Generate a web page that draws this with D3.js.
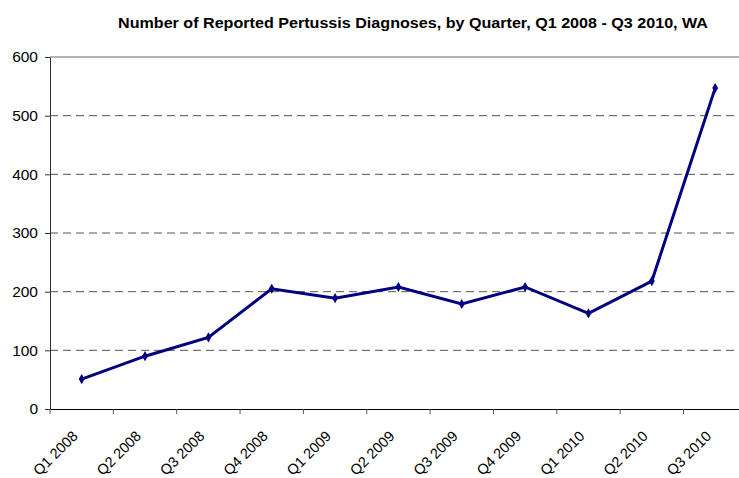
<!DOCTYPE html>
<html>
<head>
<meta charset="utf-8">
<script src="https://cdn.jsdelivr.net/npm/d3@7"></script>
<style>
  body { margin: 0; background: #fff; }
  svg { display: block; font-family: Arial, "Liberation Sans", sans-serif; }
</style>
</head>
<body>
<div id="chart"></div>
<script>
const quarters = ["Q1 2008", "Q2 2008", "Q3 2008", "Q4 2008", "Q1 2009", "Q2 2009",
                  "Q3 2009", "Q4 2009", "Q1 2010", "Q2 2010", "Q3 2010"];
const diagnoses = [51, 90, 122, 205, 189, 208, 179, 208, 163, 218, 547];
const yTicks = [0, 100, 200, 300, 400, 500, 600];
const title = "Number of Reported Pertussis Diagnoses, by Quarter, Q1 2008 - Q3 2010, WA";

const width = 739, height = 478;
const margin = { top: 57, left: 50, bottom: 69 };
const bandW = 63.35;

const svg = d3.select("#chart").append("svg").attr("width", width).attr("height", height);

const x = d3.scaleBand().domain(quarters).range([margin.left, margin.left + bandW * quarters.length]);
const y = d3.scaleLinear().domain([0, 600]).range([height - margin.bottom, margin.top]);

// title (stretched to the reference's width)
svg.append("text")
    .attr("x", 118).attr("y", 28)
    .attr("font-size", 14).attr("font-weight", "bold")
    .attr("textLength", 590).attr("lengthAdjust", "spacingAndGlyphs")
    .text(title);

// gridlines
svg.append("g").selectAll("line")
    .data(yTicks.filter(d => d > 0))
    .enter().append("line")
    .attr("x1", margin.left).attr("x2", width)
    .attr("y1", d => y(d)).attr("y2", d => y(d))
    .attr("stroke", d => d === 600 ? "#666" : "#555")
    .attr("stroke-width", 1)
    .attr("stroke-dasharray", d => d === 600 ? null : "8,5");

// y axis
const yAxis = svg.append("g")
    .attr("transform", "translate(" + margin.left + ",0)")
    .call(d3.axisLeft(y).tickValues(yTicks).tickSize(5).tickPadding(7).tickSizeOuter(0));
yAxis.select(".domain").attr("stroke", "#333");
yAxis.selectAll(".tick line").attr("stroke", "#333");
yAxis.selectAll("text").attr("font-size", 15.5).attr("fill", "#000").attr("font-family", "Arial, 'Liberation Sans', sans-serif");

// x axis
const xAxis = svg.append("g")
    .attr("transform", "translate(0," + y(0) + ")")
    .call(d3.axisBottom(x).tickSize(0).tickSizeOuter(0));
xAxis.select(".domain").attr("stroke", "#000");
xAxis.selectAll(".tick line").remove();
xAxis.selectAll("text")
    .attr("font-size", 14.5).attr("fill", "#000")
    .attr("font-family", "Arial, 'Liberation Sans', sans-serif")
    .attr("text-anchor", "end")
    .attr("x", 0).attr("y", 0).attr("dy", null)
    .attr("transform", "translate(-3,28) rotate(-45)");

// category boundary ticks
svg.append("g").selectAll("line")
    .data(quarters)
    .enter().append("line")
    .attr("x1", d => x(d)).attr("x2", d => x(d))
    .attr("y1", y(0)).attr("y2", y(0) + 5)
    .attr("stroke", "#555");

// line
const line = d3.line()
    .x((d, i) => x(quarters[i]) + x.bandwidth() / 2)
    .y(d => y(d));
svg.append("path")
    .datum(diagnoses)
    .attr("d", line)
    .attr("fill", "none")
    .attr("stroke", "#000080")
    .attr("stroke-width", 3);

// diamond markers
svg.append("g").selectAll("path")
    .data(diagnoses)
    .enter().append("path")
    .attr("d", d3.symbol().type(d3.symbolDiamond).size(30))
    .attr("transform", (d, i) => "translate(" + (x(quarters[i]) + x.bandwidth() / 2) + "," + y(d) + ")")
    .attr("fill", "#000080");
</script>
</body>
</html>
